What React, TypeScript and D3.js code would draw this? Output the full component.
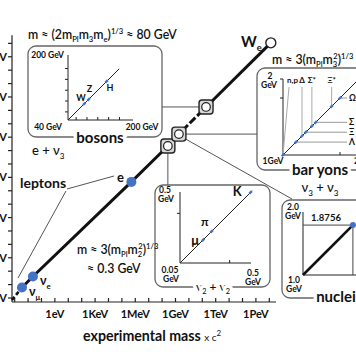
import React from 'react';
import * as d3 from 'd3';

const FONT = "Lato, 'Open Sans', sans-serif";
const W = 356, H = 364;
const BLUE = '#4472C4';

// ---------- main axes ----------
const decadeExps = d3.range(-3, 17);
const xLabelExps = [0, 3, 6, 9, 12, 15];
const xLabelText = ['1eV', '1KeV', '1MeV', '1GeV', '1TeV', '1PeV'];
const yLabelExps = [-3, 0, 3, 6, 9, 12, 15];
const yLabelText = ['1meV', '1eV', '1KeV', '1MeV', '1GeV', '1TeV', '1PeV'];

// main diagonal: experimental vs theoretical mass (eV)
const mainNames = ['start', 'νμ', 'νe', 'e', 'mesons', 'baryons', 'bosons', 'We'];
const mainExp = [6.3e-4, 3.5e-3, 2.3e-2, 5.11e5, 2.7e8, 1.8e9, 1.9e11, 1.3e16];
const mainTheo = [7.1e-4, 6e-3, 4e-2, 4.6e5, 2.2e8, 1.7e9, 1.8e11, 1.1e16];

// ---------- bosons inset (GeV) ----------
const bosonNames = ['W', 'Z', 'H'];
const bosonMass = [80, 91, 135];
const bosonTicks = [60, 86.7, 113.3, 140, 166.7];
const bosonLineEnd = 166;

// ---------- mesons inset (GeV, log) ----------
const mesonNames = ['μ', 'π', 'K'];
const mesonMass = [0.1057, 0.1396, 0.4937];
const mesonTicks = [0.25];
const mesonLineEnd = 0.52;

// ---------- baryons inset (GeV) ----------
const baryonNames = ['n,p', 'Λ', 'Δ', 'Ξ', 'Σ*', 'Σ', 'Ξ*', 'Ω'];
const baryonMass = [1.0, 1.17, 1.25, 1.3, 1.38, 1.43, 1.64, 1.75];
const baryonTopLabels = ['n,p', 'Δ', 'Σ*', 'Ξ*'];
const baryonRightLabels = ['Ω', 'Σ', 'Ξ', 'Λ'];
const baryonTicks = [1.75, 2];

// ---------- nuclei inset (GeV) ----------
const nucleiMass = [1.8756];
const nucleiLabels = ['1.8756'];

type Part = [string, string?, number?];

function Rich({ x, y, parts, size, anchor = 'start', weight = 700, fill = '#111', halo = false }: any) {
  let shift = 0;
  const spans = (parts as Part[]).map(([t, k, dx], i) => {
    const target = k === 'sub' ? size * 0.28 : k === 'sup' ? -size * 0.38 : 0;
    const dy = target - shift;
    shift = target;
    return (
      <tspan key={i} dy={dy} dx={dx || 0} fontSize={k ? size * 0.62 : size}>
        {t}
      </tspan>
    );
  });
  return (
    <text
      x={x}
      y={y}
      fontSize={size}
      textAnchor={anchor}
      fontFamily={FONT}
      fontWeight={weight}
      fill={fill}
      stroke={halo ? 'white' : 'none'}
      strokeWidth={halo ? 7 : 0}
      paintOrder="stroke"
    >
      {spans}
    </text>
  );
}

function T({ x, y, size = 10, anchor = 'start', weight = 700, children, halo = false, fill = '#111' }: any) {
  return (
    <text
      x={x}
      y={y}
      fontSize={size}
      textAnchor={anchor}
      fontFamily={FONT}
      fontWeight={weight}
      fill={fill}
      stroke={halo ? 'white' : 'none'}
      strokeWidth={halo ? 7 : 0}
      paintOrder="stroke"
    >
      {children}
    </text>
  );
}

export default function App() {
  const xS = d3.scaleLog().domain([10 ** -3.2, 10 ** 16.5]).range([12, 276]);
  const yS = d3.scaleLog().domain([10 ** -3.3, 10 ** 16.6]).range([302, 302 - 19.9 * 13.4]);
  const x0 = 12, y0 = 302;

  const pts: [number, number][] = mainExp.map((e, i) => [xS(e), yS(mainTheo[i])]);
  const line = d3.line();
  const P = (name: string) => pts[mainNames.indexOf(name)];

  // insets
  const bo = { x: 68, y: 120 };
  const bS = d3.scaleLinear().domain([40, 200]).range([0, 65]);
  const mo = { x: 180, y: 263 };
  const mS = d3.scaleLog().domain([0.05, 0.5]).range([0, 71]);
  const ro = { x: 283, y: 155 };
  const rS = d3.scaleLinear().domain([1, 2]).range([0, 76]);
  const no = { x: 303, y: 275 };
  const nS = d3.scaleLinear().domain([1, 2]).range([0, 57]);

  const sqMes = P('mesons'), sqBar = P('baryons'), sqBos = P('bosons');

  const bosonLabelOff: Record<string, [number, number]> = { W: [-8, -3], Z: [-2, -7], H: [0, 10] };
  const mesonLabelOff: Record<string, [number, number, number]> = { μ: [-4, 5, 13], π: [-3, -5, 12], K: [-9, 4, 13] };

  return (
    <svg width={W} height={H} style={{ position: 'absolute', left: 0, top: 0, background: 'white' }}>
      {/* ---------- inset boxes ---------- */}
      <g fill="white" stroke="#666" strokeWidth={1.3}>
        <rect x={28} y={46} width={134} height={91} rx={8} />
        <rect x={257} y={68} width={130} height={102} rx={8} />
        <rect x={155} y={185} width={115} height={102} rx={8} />
        <rect x={282} y={200} width={110} height={98} rx={8} />
      </g>

      {/* ---------- connectors ---------- */}
      <g stroke="#555" strokeWidth={1} fill="none">
        <line x1={162} y1={sqBos[1]} x2={sqBos[0] - 6} y2={sqBos[1]} />
        <line x1={sqBar[0] + 6} y1={sqBar[1]} x2={257} y2={sqBar[1]} />
        <line x1={sqBar[0] + 5} y1={sqBar[1] + 4} x2={292} y2={199} />
        <line x1={sqMes[0]} y1={sqMes[1] + 6} x2={sqMes[0]} y2={185} />
        <line x1={67} y1={189} x2={114} y2={176} />
        <line x1={66} y1={191} x2={18} y2={278} />
      </g>

      {/* ---------- main axes ---------- */}
      <g stroke="#222" strokeWidth={1.2}>
        <line x1={x0} y1={y0} x2={x0} y2={yS(10 ** 16.6)} />
        <line x1={x0} y1={y0} x2={xS(10 ** 16.5)} y2={y0} />
        {decadeExps.map((e) => (
          <line key={'xt' + e} x1={xS(10 ** e)} x2={xS(10 ** e)} y1={y0} y2={y0 - 4} />
        ))}
        {decadeExps.map((e) => (
          <line key={'yt' + e} x1={x0 - 4} x2={x0} y1={yS(10 ** e)} y2={yS(10 ** e)} />
        ))}
      </g>
      {xLabelExps.map((e, i) => (
        <T key={'xl' + e} x={xS(10 ** e)} y={318} size={11} anchor="middle">
          {xLabelText[i]}
        </T>
      ))}
      {yLabelExps.map((e, i) => (
        <T key={'yl' + e} x={7} y={yS(10 ** e) + 4} size={11} anchor="end">
          {yLabelText[i]}
        </T>
      ))}
      <text x={83} y={341} fontFamily={FONT} fill="#111">
        <tspan fontSize={14.2} fontWeight={700}>experimental mass </tspan>
        <tspan fontSize={10} fontWeight={400}>x c</tspan>
        <tspan fontSize={8} dy={-5}>2</tspan>
      </text>

      {/* ---------- main diagonal ---------- */}
      <path d={line(pts.slice(0, 2))!} stroke="#111" strokeWidth={2.6} strokeDasharray="4 2.5" fill="none" />
      <path d={line(pts.slice(1, 5))!} stroke="#111" strokeWidth={3} fill="none" />
      <path d={line(pts.slice(4, 7))!} stroke="#111" strokeWidth={3} strokeDasharray="8 2.5" fill="none" />
      <path d={line(pts.slice(6, 8))!} stroke="#111" strokeWidth={3} fill="none" />

      {['νμ', 'νe', 'e'].map((n) => (
        <circle key={n} cx={P(n)[0]} cy={P(n)[1]} r={5} fill={BLUE} />
      ))}
      {['mesons', 'baryons', 'bosons'].map((n) => (
        <g key={n}>
          <rect x={P(n)[0] - 7} y={P(n)[1] - 7} width={14} height={14} rx={3} fill="#d8d8d8" stroke="#222" strokeWidth={1.4} />
          <circle cx={P(n)[0]} cy={P(n)[1]} r={4.3} fill="white" stroke="#222" strokeWidth={1.2} />
        </g>
      ))}
      <circle cx={P('We')[0]} cy={P('We')[1]} r={5} fill="white" stroke="#222" strokeWidth={1.4} />

      {/* ---------- main labels ---------- */}
      <Rich x={241} y={47} size={15} parts={[['W'], ['e', 'sub']]} />
      <T x={117} y={182} size={13}>e</T>
      <T x={20} y={188} size={14}>leptons</T>
      <Rich x={32} y={155} size={13} weight={500} parts={[['e + ν'], ['3', 'sub']]} />
      <Rich x={40} y={285} size={12.5} parts={[['ν'], ['e', 'sub']]} />
      <Rich x={29} y={296} size={12.5} parts={[['ν'], ['μ', 'sub']]} />

      {/* ---------- bosons ---------- */}
      <Rich x={28} y={39} size={12.3} weight={600} parts={[['m ≈ (2m'], ['Pl', 'sub'], ['m'], ['3', 'sub'], ['m'], ['e', 'sub'], [')'], ['1/3', 'sup'], [' ≈ 80 GeV']]} />
      <g stroke="#222" strokeWidth={1}>
        <line x1={bo.x} y1={bo.y} x2={bo.x} y2={bo.y - bS(200)} />
        <line x1={bo.x} y1={bo.y} x2={bo.x + bS(200)} y2={bo.y} />
        {bosonTicks.map((t) => (
          <g key={t}>
            <line x1={bo.x - 3} x2={bo.x} y1={bo.y - bS(t)} y2={bo.y - bS(t)} />
            <line x1={bo.x + bS(t)} x2={bo.x + bS(t)} y1={bo.y} y2={bo.y - 3} />
          </g>
        ))}
        <line x1={bo.x} y1={bo.y} x2={bo.x + bS(bosonLineEnd)} y2={bo.y - bS(bosonLineEnd)} />
      </g>
      {bosonNames.map((n, i) => {
        const px = bo.x + bS(bosonMass[i]), py = bo.y - bS(bosonMass[i]);
        return (
          <g key={n}>
            <rect x={px - 1.8} y={py - 1.2} width={3.6} height={2.4} fill={BLUE} transform={`rotate(-45 ${px} ${py})`} />
            <T x={px + bosonLabelOff[n][0]} y={py + bosonLabelOff[n][1]} size={9}>{n}</T>
          </g>
        );
      })}
      <T x={64} y={58} size={8.5} anchor="end">200 GeV</T>
      <T x={62} y={130} size={8.5} anchor="end">40 GeV</T>
      <T x={142} y={130} size={8.5} anchor="middle">200 GeV</T>
      <T x={100} y={143} size={15} anchor="middle" halo>bosons</T>

      {/* ---------- baryons ---------- */}
      <Rich x={272} y={64} size={12.3} weight={600} parts={[['m ≈ 3(m'], ['Pl', 'sub'], ['m'], ['3', 'sub'], ['2', 'sup', -4], [')'], ['1/3', 'sup'], [' ≈']]} />
      <g stroke="#222" strokeWidth={1}>
        <line x1={ro.x} y1={ro.y} x2={ro.x} y2={ro.y - rS(2)} />
        <line x1={ro.x} y1={ro.y} x2={ro.x + 90} y2={ro.y} />
        {baryonTicks.map((t) => (
          <g key={t}>
            <line x1={ro.x - 3} x2={ro.x} y1={ro.y - rS(t)} y2={ro.y - rS(t)} />
            <line x1={ro.x + rS(t)} x2={ro.x + rS(t)} y1={ro.y} y2={ro.y - 3} />
          </g>
        ))}
        <line x1={ro.x} y1={ro.y} x2={ro.x + rS(2)} y2={ro.y - rS(2)} />
      </g>
      {baryonTopLabels.map((n) => {
        const m = baryonMass[baryonNames.indexOf(n)];
        const px = ro.x + rS(m), py = ro.y - rS(m);
        const lx = n === 'n,p' ? px + 6 : px;
        return (
          <g key={'t' + n}>
            <line x1={lx} y1={87} x2={px} y2={py} stroke="#aaa" strokeWidth={1} />
            <T x={n === 'n,p' ? lx - 2 : lx} y={83} size={8} anchor={n === 'n,p' ? 'start' : 'middle'}>{n}</T>
          </g>
        );
      })}
      {baryonRightLabels.map((n) => {
        const m = baryonMass[baryonNames.indexOf(n)];
        const px = ro.x + rS(m), py = ro.y - rS(m);
        return (
          <g key={'r' + n}>
            <line x1={px} y1={py} x2={347} y2={py} stroke="#999" strokeWidth={1} />
            <T x={349} y={py + 3} size={8.5}>{n}</T>
          </g>
        );
      })}
      {baryonNames.map((n, i) => {
        const px = ro.x + rS(baryonMass[i]), py = ro.y - rS(baryonMass[i]);
        return <rect key={'d' + n} x={px - 1.8} y={py - 1.2} width={3.6} height={2.4} fill={BLUE} transform={`rotate(-45 ${px} ${py})`} />;
      })}
      <T x={270} y={79} size={8.5} anchor="middle">2</T>
      <T x={269} y={88} size={8.5} anchor="middle">GeV</T>
      <T x={273} y={164} size={8.5} anchor="middle">1GeV</T>
      <T x={354} y={164} size={8.5}>2 GeV</T>
      <T x={320} y={175} size={15} anchor="middle" halo>bar yons</T>
      <Rich x={320} y={192} size={13} weight={500} anchor="middle" parts={[['ν'], ['3', 'sub'], [' + ν', ''], ['3', 'sub']]} />

      {/* ---------- mesons ---------- */}
      <Rich x={77} y={254} size={12.3} weight={600} parts={[['m ≈ 3(m'], ['Pl', 'sub'], ['m'], ['2', 'sub'], ['2', 'sup', -4], [')'], ['1/3', 'sup']]} />
      <T x={87} y={273} size={12.3} weight={600}>≈ 0.3 GeV</T>
      <g stroke="#222" strokeWidth={1}>
        <line x1={mo.x} y1={mo.y} x2={mo.x} y2={mo.y - mS(0.5)} />
        <line x1={mo.x} y1={mo.y} x2={mo.x + mS(0.5)} y2={mo.y} />
        {mesonTicks.map((t) => (
          <g key={t}>
            <line x1={mo.x - 3} x2={mo.x} y1={mo.y - mS(t)} y2={mo.y - mS(t)} />
            <line x1={mo.x + mS(t)} x2={mo.x + mS(t)} y1={mo.y} y2={mo.y - 3} />
          </g>
        ))}
        <line x1={mo.x} y1={mo.y} x2={mo.x + mS(mesonLineEnd)} y2={mo.y - mS(mesonLineEnd)} />
      </g>
      {mesonNames.map((n, i) => {
        const px = mo.x + mS(mesonMass[i]), py = mo.y - mS(mesonMass[i]);
        const o = mesonLabelOff[n];
        return (
          <g key={n}>
            <rect x={px - 1.8} y={py - 1.2} width={3.6} height={2.4} fill={BLUE} transform={`rotate(-45 ${px} ${py})`} />
            <T x={px + o[0]} y={py + o[1]} size={o[2]} anchor="end">{n}</T>
          </g>
        );
      })}
      <T x={165} y={193} size={8.5} anchor="middle">0.5</T>
      <T x={166} y={202} size={8.5} anchor="middle">GeV</T>
      <T x={170} y={273} size={8.5} anchor="middle">0.05</T>
      <T x={171} y={282} size={8.5} anchor="middle">GeV</T>
      <T x={253} y={276} size={8.5} anchor="middle">0.5</T>
      <T x={253} y={285} size={8.5} anchor="middle">GeV</T>
      <Rich x={213} y={291} size={12} weight={500} anchor="middle" halo parts={[['ν'], ['2', 'sub'], [' + ν'], ['2', 'sub']]} />

      {/* ---------- nuclei ---------- */}
      <g stroke="#222" strokeWidth={1}>
        <line x1={no.x} y1={no.y} x2={no.x} y2={no.y - 63} />
        <line x1={no.x} y1={no.y} x2={no.x + 70} y2={no.y} />
      </g>
      {nucleiMass.map((m, i) => {
        const px = no.x + nS(m), py = no.y - nS(m);
        return (
          <g key={m}>
            <line x1={no.x} y1={py} x2={no.x + 70} y2={py} stroke="#444" strokeWidth={1} />
            <line x1={px} y1={py} x2={px} y2={no.y} stroke="#444" strokeWidth={1} />
            <line x1={no.x} y1={no.y} x2={px} y2={py} stroke="#111" strokeWidth={2.6} />
            <circle cx={px} cy={py} r={3} fill={BLUE} />
            <T x={326} y={py - 4} size={9.5} anchor="middle">{nucleiLabels[i]}</T>
          </g>
        );
      })}
      <T x={293} y={210} size={8.5} anchor="middle">2.0</T>
      <T x={293} y={219} size={8.5} anchor="middle">GeV</T>
      <T x={294} y={283} size={8.5} anchor="middle">1.0</T>
      <T x={294} y={292} size={8.5} anchor="middle">GeV</T>
      <T x={336} y={302} size={15} anchor="middle" halo>nuclei</T>
    </svg>
  );
}
